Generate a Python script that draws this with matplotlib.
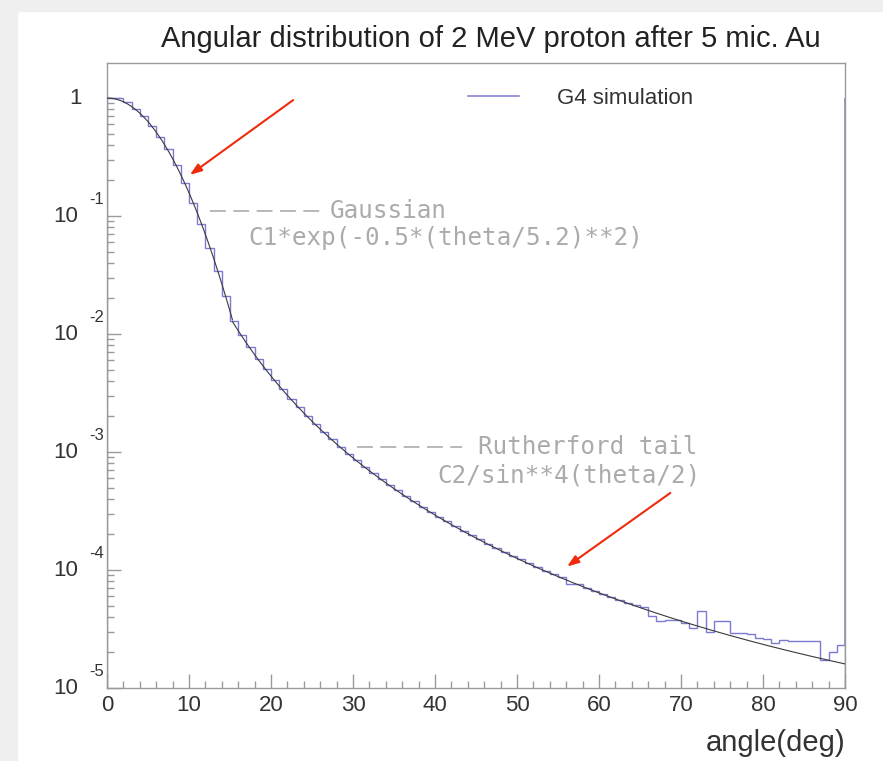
import numpy as np
import matplotlib
matplotlib.use("Agg")
import matplotlib.pyplot as plt
import matplotlib.transforms as mtrans
from matplotlib.lines import Line2D
from matplotlib.patches import Rectangle
from matplotlib.ticker import FixedLocator, NullFormatter

# ---------------- data ----------------
title = "Angular distribution of 2 MeV proton after 5 mic. Au"
xlabel = "angle(deg)"
legend_label = "G4 simulation"

bin_edges = list(range(0, 91))          # 1-degree bins, 0..90 deg
counts = [
    1.0, 1.0, 0.92, 0.81, 0.70, 0.58, 0.465, 0.37, 0.27, 0.19,
    0.128, 0.086, 0.054, 0.034, 0.021, 0.0128, 0.0098, 0.0078, 0.0062, 0.0051,
    0.0041, 0.0034, 0.0028, 0.00240, 0.00200, 0.00172, 0.00147, 0.00128, 0.00111, 0.00097,
    0.00085, 0.00075, 0.00067, 0.000585, 0.000525, 0.000472, 0.000420, 0.000382, 0.000342, 0.000312,
    0.000284, 0.000258, 0.000236, 0.000216, 0.000197, 0.000182, 0.000167, 0.000154, 0.000143, 0.000132,
    0.000123, 0.000114, 0.000106, 9.90e-5, 9.25e-5, 8.65e-5, 7.60e-5, 7.60e-5, 7.05e-5, 6.65e-5,
    6.28e-5, 5.90e-5, 5.55e-5, 5.25e-5, 5.05e-5, 4.90e-5, 4.10e-5, 3.70e-5, 3.80e-5, 3.80e-5,
    3.55e-5, 3.20e-5, 4.50e-5, 3.00e-5, 3.70e-5, 3.70e-5, 2.90e-5, 2.90e-5, 2.85e-5, 2.65e-5,
    2.60e-5, 2.40e-5, 2.55e-5, 2.50e-5, 2.50e-5, 2.50e-5, 2.50e-5, 1.74e-5, 2.00e-5, 2.30e-5,
]
right_edge_top = 1.0   # vertical histogram edge drawn at 90 deg

# fit functions shown in the chart
C1, SIGMA = 1.0, 5.2
C2 = 4.0e-6
gauss_range = (0.0, 15.3)
ruth_range = (15.3, 90.0)

gauss_label = ["Gaussian", "C1*exp(-0.5*(theta/5.2)**2)"]
ruth_label = ["Rutherford tail", "C2/sin**4(theta/2)"]

x_ticks = [0, 10, 20, 30, 40, 50, 60, 70, 80, 90]
y_exponents = [0, -1, -2, -3, -4, -5]

# ---------------- figure ----------------
W, H = 883, 761
fig = plt.figure(figsize=(W / 100, H / 100), dpi=100)
fig.patch.set_facecolor("white")
fig.patches.append(Rectangle((0, 0), 17 / W, 1, transform=fig.transFigure,
                             color="#efefef", zorder=-10))
fig.patches.append(Rectangle((0, 1 - 11 / H), 1, 11 / H, transform=fig.transFigure,
                             color="#efefef", zorder=-10))

ax = fig.add_axes([107 / W, 1 - 688 / H, (845 - 107) / W, (688 - 63) / H])
ax.set_yscale("log")
ax.set_xlim(0, 90)
ax.set_ylim(1e-5, 1.98)

hist_color = "#7a7ad2"
fit_color = "#3a3a3a"
gray = "#ababab"
txt = "#333333"

ax.stairs(counts, bin_edges, color=hist_color, lw=1.0, zorder=2)
ax.vlines(bin_edges[-1], counts[-1], right_edge_top, color=hist_color, lw=1.1, zorder=2)

tg = np.linspace(gauss_range[0], gauss_range[1], 200)
ax.plot(tg, C1 * np.exp(-0.5 * (tg / SIGMA) ** 2), color=fit_color, lw=0.8, zorder=3)
tr = np.linspace(ruth_range[0], ruth_range[1], 400)
ax.plot(tr, C2 / np.sin(np.radians(tr) / 2) ** 4, color=fit_color, lw=0.8, zorder=3)

# spines / ticks
for s in ax.spines.values():
    s.set_color("#9a9a9a")
    s.set_linewidth(1.0)
ax.xaxis.set_major_locator(FixedLocator(x_ticks))
ax.xaxis.set_minor_locator(FixedLocator(list(range(0, 91, 2))))
ax.set_xticklabels([str(v) for v in x_ticks])
major_y = [10.0 ** e for e in y_exponents]
minor_y = [m * 10.0 ** e for e in range(-5, 1) for m in range(2, 10) if m * 10.0 ** e < 1.98]
ax.yaxis.set_major_locator(FixedLocator(major_y))
ax.yaxis.set_minor_locator(FixedLocator(minor_y))
ax.yaxis.set_major_formatter(NullFormatter())
ax.yaxis.set_minor_formatter(NullFormatter())
ax.tick_params(axis="both", which="major", direction="in", length=10, width=1,
               color="#9a9a9a", top=False, right=False)
ax.tick_params(axis="both", which="minor", direction="in", length=5, width=1,
               color="#9a9a9a", top=False, right=False)
ax.tick_params(axis="x", which="major", labelsize=16, pad=5, labelcolor=txt)
for lab in ax.get_xticklabels():
    lab.set_fontfamily("Liberation Sans")

# y tick labels: "10" with raised exponent
ytr = mtrans.blended_transform_factory(ax.transAxes, ax.transData)
for e in y_exponents:
    v = 10.0 ** e
    if e == 0:
        ax.text(-0.034, v, "1", transform=ytr, ha="right", va="center",
                fontsize=16, family="Liberation Sans", color=txt)
    else:
        ax.text(-0.039, v, "10", transform=ytr, ha="right", va="center",
                fontsize=16, family="Liberation Sans", color=txt)
        t = ax.text(-0.004, v, str(e), transform=ytr, ha="right", va="center",
                    fontsize=12, family="Liberation Sans", color=txt)
        t.set_transform(ytr + mtrans.ScaledTranslation(0, 17 / 100, fig.dpi_scale_trans))

fig.text(491 / W, 1 - 39 / H, title, ha="center", va="center", fontsize=21,
         family="Liberation Sans", color="#222222")
fig.text(845 / W, 1 - 743 / H, xlabel, ha="right", va="center", fontsize=21,
         family="Liberation Sans", color=txt)

# legend
leg = ax.legend([Line2D([0], [0], color=hist_color, lw=1.1)], [legend_label],
                loc="center left", bbox_to_anchor=((468 - 107) / 738, (688 - 98) / 625),
                frameon=False, handlelength=2.3, handletextpad=1.7,
                borderpad=0, borderaxespad=0, prop={"family": "Liberation Sans", "size": 16})
for t in leg.get_texts():
    t.set_color(txt)

# fit annotations
mono = dict(family="DejaVu Sans Mono", fontsize=17.5, color=gray)
dash = (0, (9.5, 4.5))
ax.add_line(Line2D([(210 - 107) / 738, (320 - 107) / 738], [(688 - 211) / 625] * 2,
                   transform=ax.transAxes, color=gray, lw=1.2, ls=dash))
ax.text((330 - 107) / 738, (688 - 211) / 625, gauss_label[0], transform=ax.transAxes,
        ha="left", va="center", **mono)
ax.text((248 - 107) / 738, (688 - 238) / 625, gauss_label[1], transform=ax.transAxes,
        ha="left", va="center", **mono)
ax.add_line(Line2D([(357 - 107) / 738, (462 - 107) / 738], [(688 - 447) / 625] * 2,
                   transform=ax.transAxes, color=gray, lw=1.2, ls=dash))
ax.text((478 - 107) / 738, (688 - 447) / 625, ruth_label[0], transform=ax.transAxes,
        ha="left", va="center", **mono)
ax.text((437 - 107) / 738, (688 - 475) / 625, ruth_label[1], transform=ax.transAxes,
        ha="left", va="center", **mono)

# red arrows
arrow_red = "#f02a0c"
ax.annotate("", xy=(10.1, 0.223), xytext=(22.7, 0.96),
            arrowprops=dict(arrowstyle="-|>,head_length=0.7,head_width=0.25",
                            color=arrow_red, lw=1.5, shrinkA=0, shrinkB=0))
ax.annotate("", xy=(56.1, 1.07e-4), xytext=(68.7, 4.5e-4),
            arrowprops=dict(arrowstyle="-|>,head_length=0.7,head_width=0.25",
                            color=arrow_red, lw=1.5, shrinkA=0, shrinkB=0))

fig.savefig("out.png", dpi=100)
